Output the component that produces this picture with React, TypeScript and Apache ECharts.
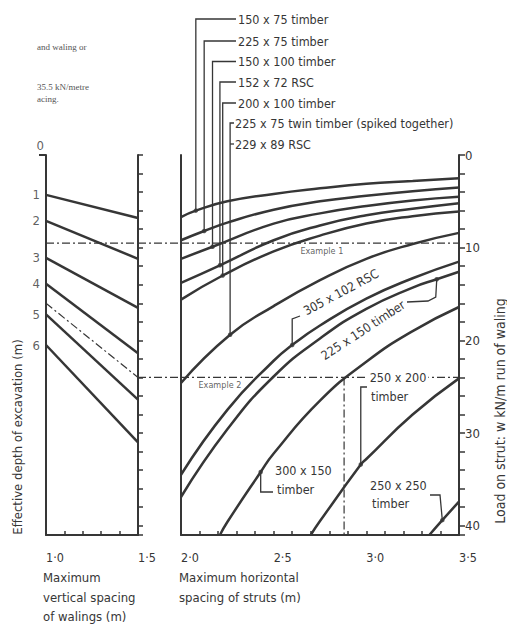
import React, { useEffect, useRef } from "react";
import * as echarts from "echarts";

// ---------------- data ----------------
// left panel: vertical spacing of walings (m) vs load (kN/m)
const walingSpacing = [1.0, 1.5];
const depthTickLabels = ["0", "1", "2", "3", "4", "5", "6"];
const depthTickLoads = [0, 4.3, 7.1, 11.1, 13.9, 17.2, 20.5];
const depthLoadAt10 = [4.3, 7.1, 11.1, 13.9, 17.2, 20.5];
const depthLoadAt15 = [6.8, 11.2, 16.5, 21.4, 26.4, 31.0];

// worked examples
const example1Load = 9.5;
const example2Diag = [16.0, 24.0];
const example2Load = 24.0;
const example2Spacing = 2.88;
const exampleLabels = ["Example 1", "Example 2"];
const exampleLabelS = [2.76, 2.21];

// right panel: horizontal spacing of struts (m) vs load (kN/m)
const c150x75S = [2.0, 2.08, 2.25, 2.5, 2.75, 3.0, 3.25, 3.5];
const c150x75W = [6.7, 6.0, 5.0, 4.2, 3.6, 3.1, 2.8, 2.5];
const c225x75S = [2.0, 2.125, 2.25, 2.5, 2.75, 3.0, 3.25, 3.5];
const c225x75W = [9.2, 8.2, 7.3, 5.9, 5.0, 4.4, 3.9, 3.5];
const c150x100S = [2.0, 2.17, 2.5, 2.75, 3.0, 3.25, 3.5];
const c150x100W = [11.2, 9.9, 7.4, 6.3, 5.5, 4.9, 4.5];
const c152x72S = [2.0, 2.21, 2.5, 2.75, 3.0, 3.25, 3.5];
const c152x72W = [13.8, 11.9, 9.2, 7.6, 6.5, 5.8, 5.2];
const c200x100S = [2.0, 2.225, 2.5, 2.75, 3.0, 3.25, 3.5];
const c200x100W = [15.6, 13.0, 10.4, 8.7, 7.4, 6.6, 6.1];
const cTwinS = [2.0, 2.265, 2.5, 2.75, 3.0, 3.25, 3.5];
const cTwinW = [24.6, 19.4, 16.3, 13.5, 11.2, 9.6, 8.4];
const c305x102S = [2.0, 2.25, 2.5, 2.6, 2.75, 3.0, 3.25, 3.5];
const c305x102W = [34.5, 27.5, 22.2, 20.5, 18.4, 15.5, 13.3, 11.5];
const c225x150S = [2.0, 2.25, 2.5, 2.75, 3.0, 3.25, 3.38, 3.5];
const c225x150W = [36.9, 29.6, 23.9, 19.8, 16.6, 14.3, 13.4, 12.6];
const c300x150S = [2.21, 2.25, 2.43, 2.5, 2.75, 3.0, 3.25, 3.5];
const c300x150W = [41, 39.6, 34.2, 32.2, 26.5, 22.3, 19.0, 16.4];
const c250x200S = [2.7, 2.75, 2.97, 3.0, 3.25, 3.5];
const c250x200W = [41, 39.5, 33.4, 32.8, 28.0, 24.1];
const c250x250S = [3.34, 3.41, 3.5];
const c250x250W = [41, 39.4, 37.4];

const sectionLabels = [
  "150 x 75 timber",
  "225 x 75 timber",
  "150 x 100 timber",
  "152 x 72 RSC",
  "200 x 100 timber",
  "225 x 75 twin timber (spiked together)",
  "229 x 89 RSC",
];

// index of the point on each curve where a leader line ends
const curves = [
  { s: c150x75S, w: c150x75W, dot: 1 },
  { s: c225x75S, w: c225x75W, dot: 1 },
  { s: c150x100S, w: c150x100W, dot: 1 },
  { s: c152x72S, w: c152x72W, dot: 1 },
  { s: c200x100S, w: c200x100W, dot: 1 },
  { s: cTwinS, w: cTwinW, dot: 1 },
  { s: c305x102S, w: c305x102W, dot: 3 },
  { s: c225x150S, w: c225x150W, dot: 6 },
  { s: c300x150S, w: c300x150W, dot: 2 },
  { s: c250x200S, w: c250x200W, dot: 2 },
  { s: c250x250S, w: c250x250W, dot: 1 },
];

const xLeftMajor = [1.0, 1.5];
const xLeftLabels = ["1·0", "1·5"];
const xRightMajor = [2.0, 2.5, 3.0, 3.5];
const xRightLabels = ["2·0", "2·5", "3·0", "3·5"];
const loadTicks = [0, 10, 20, 30, 40];

// ---------------- styling ----------------
const FONT = '"DejaVu Sans Condensed", "DejaVu Sans", sans-serif';
const SERIF = '"Liberation Serif", "DejaVu Serif", serif';
const INK = "#363636";
const DASHDOT = [8, 3, 2, 3];

function tickLabel(values: number[], labels: string[]) {
  return (v: number) => {
    const i = values.findIndex((m) => Math.abs(m - v) < 1e-6);
    return i >= 0 ? labels[i] : "";
  };
}

function buildOption(): any {
  const lineStyle = { color: INK, width: 2 };
  const xAxis = (gridIndex: number, min: number, max: number, values: number[], labels: string[]) => ({
    type: "value",
    gridIndex,
    min,
    max,
    interval: 0.1,
    position: "bottom",
    axisLine: { show: true, onZero: false, lineStyle },
    axisTick: { show: true, inside: true, length: 4, lineStyle: { color: INK, width: 1.5 } },
    axisLabel: {
      formatter: tickLabel(values, labels),
      align: "left",
      margin: 16,
      color: INK,
      fontFamily: FONT,
      fontSize: 12.5,
    },
    splitLine: { show: false },
  });
  const yBase = (gridIndex: number, position: string) => ({
    type: "value",
    gridIndex,
    min: 0,
    max: 41,
    inverse: true,
    position,
    axisLine: { show: true, onZero: false, lineStyle },
    splitLine: { show: false },
  });

  const series: any[] = [];
  depthLoadAt10.forEach((a, i) => {
    series.push({
      type: "line",
      xAxisIndex: 0,
      yAxisIndex: 0,
      data: [
        [walingSpacing[0], a],
        [walingSpacing[1], depthLoadAt15[i]],
      ],
      symbol: "none",
      lineStyle: { color: INK, width: 2.5 },
      silent: true,
    });
  });
  const dashLine = (xi: number, yi: number, data: number[][]) => ({
    type: "line",
    xAxisIndex: xi,
    yAxisIndex: yi,
    data,
    symbol: "none",
    lineStyle: { color: INK, width: 1.2, type: DASHDOT },
    silent: true,
  });
  series.push(
    dashLine(0, 0, [
      [walingSpacing[0], example2Diag[0]],
      [walingSpacing[1], example2Diag[1]],
    ])
  );
  series.push(
    dashLine(0, 0, [
      [walingSpacing[0], example1Load],
      [walingSpacing[1], example1Load],
    ])
  );
  curves.forEach((c) => {
    series.push({
      type: "line",
      xAxisIndex: 1,
      yAxisIndex: 2,
      data: c.s.map((s, i) => [s, c.w[i]]),
      smooth: 0.5,
      symbol: "none",
      lineStyle: { color: INK, width: 2.5 },
      silent: true,
    });
  });
  series.push(
    dashLine(1, 2, [
      [xRightMajor[0], example1Load],
      [xRightMajor[3], example1Load],
    ])
  );
  series.push(
    dashLine(1, 2, [
      [xRightMajor[0], example2Load],
      [xRightMajor[3], example2Load],
    ])
  );
  series.push(
    dashLine(1, 2, [
      [example2Spacing, example2Load],
      [example2Spacing, 41],
    ])
  );
  // dots where leaders meet curves
  series.push({
    type: "scatter",
    xAxisIndex: 1,
    yAxisIndex: 2,
    data: curves.map((c) => [c.s[c.dot], c.w[c.dot]]),
    symbol: "circle",
    symbolSize: 4.5,
    itemStyle: { color: INK },
    silent: true,
    z: 5,
  });
  // depth labels on left axis
  series.push({
    type: "scatter",
    xAxisIndex: 0,
    yAxisIndex: 0,
    data: depthTickLoads.map((w, i) => ({
      value: [walingSpacing[0], w],
      label: { formatter: depthTickLabels[i], offset: i === 0 ? [4, -10] : [0, 0] },
    })),
    symbolSize: 0,
    label: {
      show: true,
      position: "left",
      distance: 6,
      color: INK,
      fontFamily: FONT,
      fontSize: 13,
    },
    silent: true,
  });
  // example labels
  series.push({
    type: "scatter",
    xAxisIndex: 1,
    yAxisIndex: 2,
    data: [
      { value: [exampleLabelS[0], example1Load], label: { formatter: exampleLabels[0] } },
      { value: [exampleLabelS[1], example2Load], label: { formatter: exampleLabels[1] } },
    ],
    symbolSize: 0,
    label: {
      show: true,
      position: "bottom",
      distance: 3,
      color: INK,
      fontFamily: FONT,
      fontSize: 9,
    },
    silent: true,
  });

  return {
    animation: false,
    backgroundColor: "#ffffff",
    grid: [
      { left: 46, top: 155, width: 92, height: 380 },
      { left: 181, top: 155, width: 278, height: 380 },
    ],
    xAxis: [xAxis(0, 1.0, 1.5, xLeftMajor, xLeftLabels), xAxis(1, 2.0, 3.5, xRightMajor, xRightLabels)],
    yAxis: [
      { ...yBase(0, "left"), axisTick: { show: false }, axisLabel: { show: false } },
      {
        ...yBase(0, "right"),
        interval: 2,
        axisTick: { show: true, length: 5, lineStyle: { color: INK, width: 1.5 } },
        axisLabel: { show: false },
      },
      { ...yBase(1, "left"), axisTick: { show: false }, axisLabel: { show: false } },
      {
        ...yBase(1, "right"),
        interval: 2,
        axisTick: { show: true, length: 6, lineStyle: { color: INK, width: 1.5 } },
        axisLabel: {
          formatter: (v: number) => (loadTicks.includes(v) ? String(v) : ""),
          margin: 6,
          color: INK,
          fontFamily: FONT,
          fontSize: 13,
        },
      },
    ],
    series,
  };
}

function txt(x: number, y: number, text: string, size = 12.5, align = "left", rotation = 0, extra: any = {}) {
  return {
    type: "text",
    x,
    y,
    rotation,
    silent: true,
    z: 10,
    style: {
      text,
      fill: INK,
      font: `${size}px ${FONT}`,
      align,
      verticalAlign: "middle",
      textAlign: align,
      textVerticalAlign: "middle",
      ...extra,
    },
  };
}

function poly(points: number[][], width = 1.3, dash?: number[]) {
  return {
    type: "polyline",
    silent: true,
    z: 10,
    shape: { points },
    style: { stroke: INK, lineWidth: width, fill: "none", lineDash: dash },
  };
}

function buildGraphics(chart: any): any[] {
  const P0 = (s: number, w: number) => chart.convertToPixel({ xAxisIndex: 0, yAxisIndex: 0 }, [s, w]) as number[];
  const P1 = (s: number, w: number) => chart.convertToPixel({ xAxisIndex: 1, yAxisIndex: 2 }, [s, w]) as number[];
  const dot = (i: number) => P1(curves[i].s[curves[i].dot], curves[i].w[curves[i].dot]);
  const g: any[] = [];

  // partial caption text at top left
  const serif = (x: number, y: number, t: string) => ({
    type: "text",
    x,
    y,
    silent: true,
    style: { text: t, fill: "#555", font: `9px ${SERIF}`, align: "left", verticalAlign: "middle", textAlign: "left", textVerticalAlign: "middle" },
  });
  g.push(serif(37, 47, "and waling or"), serif(37, 87, "35.5 kN/metre"), serif(37, 99, "acing."));

  // section labels with leaders
  const labelY = [19, 41, 61.5, 82, 103, 123, 144];
  sectionLabels.forEach((t, i) => g.push(txt(i >= 5 ? 235 : 238, labelY[i], t, 12.5)));
  for (let i = 0; i < 5; i++) {
    const [dx, dy] = dot(i);
    g.push(poly([[236, labelY[i]], [dx, labelY[i]], [dx, dy]]));
  }
  {
    const [dx, dy] = dot(5);
    g.push(poly([[234, labelY[5]], [dx, labelY[5]], [dx, dy]]));
    g.push(poly([[dx, labelY[6]], [234, labelY[6]]]));
  }

  // labels on the lower curves
  g.push(txt(341, 292, "305 x 102 RSC", 12.5, "center", 0.49));
  {
    const [dx, dy] = dot(6);
    g.push(poly([[300, 316], [dx, 319], [dx, dy]]));
  }
  g.push(txt(363, 330, "225 x 150 timber", 12.5, "center", 0.58));
  {
    const [dx, dy] = dot(7);
    g.push(poly([[407, 302], [428, 301], [dx - 1, 297], [dx, dy]]));
  }
  g.push(txt(275, 470, "300 x 150", 12.5));
  g.push(txt(277, 489, "timber", 12.5));
  {
    const [dx, dy] = dot(8);
    g.push(poly([[dx, dy], [dx, 492], [273, 492]]));
  }
  const e2y = P1(2.0, example2Load)[1];
  g.push(txt(398, e2y, "250 x 200", 12.5, "center", 0, { backgroundColor: "#ffffff", padding: [0, 2] }));
  g.push(txt(371, 396, "timber", 12.5));
  {
    const [dx, dy] = dot(9);
    g.push(poly([[367, 387], [dx, 387], [dx, dy]]));
  }
  g.push(txt(370, 485, "250 x 250", 12.5));
  g.push(txt(372, 503, "timber", 12.5));
  {
    const [dx, dy] = dot(10);
    g.push(poly([[430, 495], [440, 495], [dx, dy]]));
  }

  // dash-dot lines across the gap between panels
  const a1 = P0(walingSpacing[1], example1Load);
  const b1 = P1(xRightMajor[0], example1Load);
  g.push(poly([a1, b1], 1.2, DASHDOT));
  const a2 = P0(walingSpacing[1], example2Load);
  const b2 = P1(xRightMajor[0], example2Load);
  g.push(poly([a2, b2], 1.2, DASHDOT));

  // hook at top of depth axis
  const top = P0(walingSpacing[0], 0);
  g.push(poly([[top[0] - 7, top[1]], top], 2));

  // axis titles
  g.push(txt(17, 437, "Effective depth of excavation (m)", 13, "center", Math.PI / 2));
  g.push(txt(500, 411, "Load on strut: w kN/m run of waling", 14, "center", Math.PI / 2));
  g.push(txt(43, 577, "Maximum", 13));
  g.push(txt(43, 597, "vertical spacing", 13));
  g.push(txt(43, 616, "of walings (m)", 13));
  g.push(txt(179, 577, "Maximum horizontal", 13));
  g.push(txt(179, 597, "spacing of struts (m)", 13));
  return g;
}

export default function App() {
  const ref = useRef<HTMLDivElement>(null);
  useEffect(() => {
    const el = ref.current;
    if (!el) return;
    const chart = echarts.init(el, null, { renderer: "svg" });
    chart.setOption(buildOption());
    chart.setOption({ graphic: { elements: buildGraphics(chart) } });
    return () => chart.dispose();
  }, []);
  return (
    <div
      ref={ref}
      style={{ position: "absolute", left: 0, top: 0, width: 507, height: 625, background: "#fff" }}
    />
  );
}
